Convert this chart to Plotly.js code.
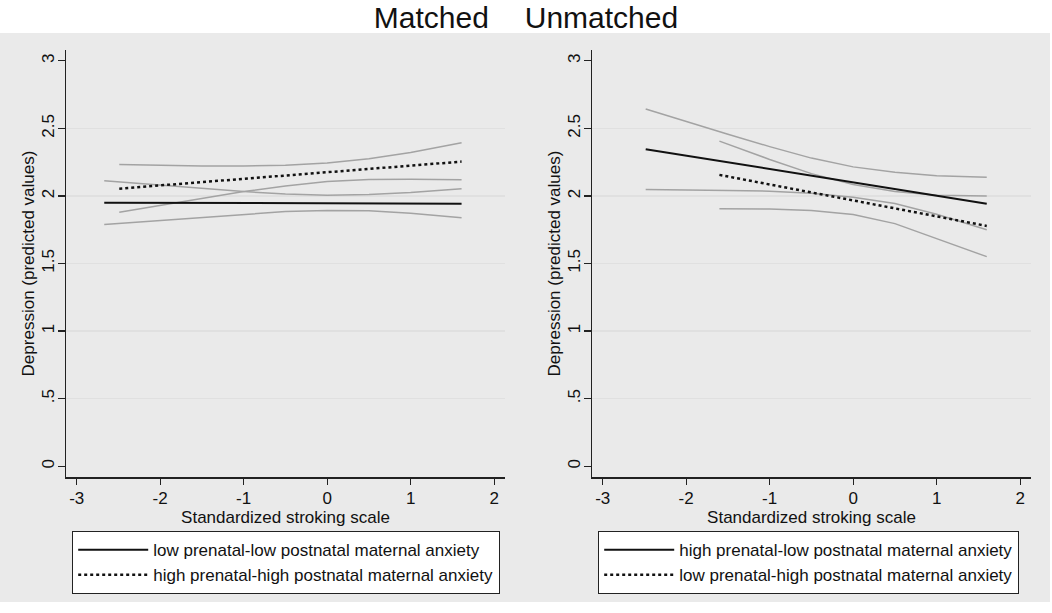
<!DOCTYPE html>
<html><head><meta charset="utf-8">
<script src="https://cdn.plot.ly/plotly-3.0.1.min.js"></script>
<style>html,body{margin:0;padding:0;background:#fff}</style>
</head><body><div id="chart" style="width:1052px;height:613px"></div>
<script>
// ---- tick labels ----
const xTickVals = [-3, -2, -1, 0, 1, 2];
const xTickText = ["-3", "-2", "-1", "0", "1", "2"];
const yTickVals = [0, 0.5, 1, 1.5, 2, 2.5, 3];
const yTickText = ["0", ".5", "1", "1.5", "2", "2.5", "3"];
const gridVals = [0.5, 1, 1.5, 2, 2.5];

// ---- Matched panel ----
const mLowLowX   = [-2.67, -2, -1.5, -1, -0.5, 0, 0.5, 1, 1.61];
const mLowLowY   = [1.950, 1.949, 1.948, 1.948, 1.947, 1.946, 1.945, 1.944, 1.943];
const mLowLowHi  = [2.113, 2.082, 2.055, 2.032, 2.015, 2.006, 2.010, 2.025, 2.054];
const mLowLowLo  = [1.788, 1.818, 1.842, 1.866, 1.884, 1.893, 1.890, 1.872, 1.839];

const mHighHighX  = [-2.49, -2, -1.5, -1, -0.5, 0, 0.5, 1, 1.61];
const mHighHighY  = [2.054, 2.078, 2.102, 2.127, 2.151, 2.176, 2.200, 2.224, 2.254];
const mHighHighHi = [2.232, 2.226, 2.222, 2.222, 2.228, 2.244, 2.275, 2.322, 2.393];
const mHighHighLo = [1.879, 1.930, 1.982, 2.032, 2.074, 2.106, 2.122, 2.124, 2.119];

// ---- Unmatched panel ----
const uHighLowX  = [-2.485, -2, -1.5, -1, -0.5, 0, 0.5, 1, 1.60];
const uHighLowY  = [2.346, 2.298, 2.249, 2.200, 2.150, 2.101, 2.052, 2.002, 1.943];
const uHighLowHi = [2.644, 2.550, 2.457, 2.365, 2.280, 2.215, 2.175, 2.150, 2.138];
const uHighLowLo = [2.048, 2.046, 2.041, 2.035, 2.020, 1.990, 1.944, 1.865, 1.750];

const uLowHighX  = [-1.602, -1, -0.5, 0, 0.5, 1, 1.60];
const uLowHighY  = [2.156, 2.085, 2.026, 1.967, 1.908, 1.849, 1.778];
const uLowHighHi = [2.406, 2.270, 2.165, 2.085, 2.032, 2.006, 2.000];
const uLowHighLo = [1.906, 1.903, 1.893, 1.862, 1.795, 1.685, 1.551];

const names = {
  mSolid: "low prenatal-low postnatal maternal anxiety",
  mDot: "high prenatal-high postnatal maternal anxiety",
  uSolid: "high prenatal-low postnatal maternal anxiety",
  uDot: "low prenatal-high postnatal maternal anxiety"
};

const W = 1052, H = 613;
const fx = p => p / W;
const fy = p => 1 - p / H;
const FONT = "Arial, 'Liberation Sans', sans-serif";
const ciLine = {color: "#a3a3a3", width: 1.5};
const solidLine = {color: "#111", width: 2};
const dotLine = {color: "#111", width: 2.5, dash: "dot"};

function ci(x, y, xa, ya) {
  return {x: x, y: y, xaxis: xa, yaxis: ya, mode: "lines", line: ciLine, showlegend: false, hoverinfo: "skip"};
}

const data = [
  ci(mLowLowX, mLowLowHi, "x", "y"),
  ci(mLowLowX, mLowLowLo, "x", "y"),
  ci(mHighHighX, mHighHighHi, "x", "y"),
  ci(mHighHighX, mHighHighLo, "x", "y"),
  {x: mLowLowX, y: mLowLowY, xaxis: "x", yaxis: "y", mode: "lines", line: solidLine, name: names.mSolid, legend: "legend"},
  {x: mHighHighX, y: mHighHighY, xaxis: "x", yaxis: "y", mode: "lines", line: dotLine, name: names.mDot, legend: "legend"},
  ci(uHighLowX, uHighLowHi, "x2", "y2"),
  ci(uHighLowX, uHighLowLo, "x2", "y2"),
  ci(uLowHighX, uLowHighHi, "x2", "y2"),
  ci(uLowHighX, uLowHighLo, "x2", "y2"),
  {x: uHighLowX, y: uHighLowY, xaxis: "x2", yaxis: "y2", mode: "lines", line: solidLine, name: names.uSolid, legend: "legend2"},
  {x: uLowHighX, y: uLowHighY, xaxis: "x2", yaxis: "y2", mode: "lines", line: dotLine, name: names.uDot, legend: "legend2"},
  // invisible traces carrying the grid overlay axes
  {x: [0], y: [0], xaxis: "x", yaxis: "y3", mode: "none", showlegend: false, hoverinfo: "skip"},
  {x: [0], y: [0], xaxis: "x2", yaxis: "y4", mode: "none", showlegend: false, hoverinfo: "skip"}
];

function xAxis(domain, anchor) {
  return {
    domain: domain, anchor: anchor, range: [-3.128, 2.13],
    tickmode: "array", tickvals: xTickVals, ticktext: xTickText,
    ticks: "outside", ticklen: 6, tickwidth: 1.3, tickcolor: "#222",
    showline: true, linecolor: "#222", linewidth: 1.5,
    showgrid: false, zeroline: false, ticklabelstandoff: -1,
    tickfont: {family: FONT, size: 17, color: "#111"},
    title: {text: "Standardized stroking scale", font: {family: FONT, size: 17, color: "#111"}, standoff: 0}
  };
}
function yAxis(domain, anchor) {
  return {
    domain: domain, anchor: anchor, range: [-0.08, 3.08],
    tickmode: "array", tickvals: yTickVals, ticktext: yTickText, tickangle: -90,
    ticks: "outside", ticklen: 7, tickwidth: 1.3, tickcolor: "#222",
    showline: true, linecolor: "#222", linewidth: 1.5,
    showgrid: false, zeroline: false, ticklabelstandoff: -3,
    tickfont: {family: FONT, size: 17, color: "#111"},
    title: {text: "Depression (predicted values)", font: {family: FONT, size: 17, color: "#111"}, standoff: 0}
  };
}
function gridAxis(over, anchor) {
  return {
    overlaying: over, anchor: anchor, range: [-0.08, 3.08],
    tickmode: "array", tickvals: gridVals, showticklabels: false, ticks: "",
    showgrid: true, gridcolor: "#e0e0e0", gridwidth: 1.5, showline: false, zeroline: false
  };
}
function legendBox(xp) {
  return {
    x: fx(xp), y: fy(531), xanchor: "left", yanchor: "top",
    bgcolor: "#fff", bordercolor: "#222", borderwidth: 1.2,
    font: {family: FONT, size: 17, color: "#111"}, itemwidth: 70, tracegroupgap: 0
  };
}

const layout = {
  width: W, height: H,
  margin: {l: 0, r: 0, t: 0, b: 0, autoexpand: false},
  paper_bgcolor: "#fff", plot_bgcolor: "#fff",
  font: {family: FONT, color: "#111"},
  title: {text: "Matched\u00a0\u00a0\u00a0\u00a0\u200aUnmatched", font: {family: FONT, size: 30, color: "#111"},
          x: 0.5, xanchor: "center", y: fy(17.5), yanchor: "middle", yref: "container"},
  xaxis: xAxis([fx(66), fx(505)], "y"),
  yaxis: yAxis([fy(477), fy(50)], "x"),
  xaxis2: xAxis([fx(592), fx(1031)], "y2"),
  yaxis2: yAxis([fy(477), fy(50)], "x2"),
  yaxis3: gridAxis("y", "x"),
  yaxis4: gridAxis("y2", "x2"),
  legend: legendBox(72),
  legend2: legendBox(598),
  shapes: [
    {type: "rect", xref: "paper", yref: "paper", x0: 0, x1: fx(1050), y0: fy(602), y1: fy(33),
     fillcolor: "#eaeaea", line: {width: 0}, layer: "below"}
  ]
};

Plotly.newPlot("chart", data, layout, {displayModeBar: false, staticPlot: true});
</script></body></html>
